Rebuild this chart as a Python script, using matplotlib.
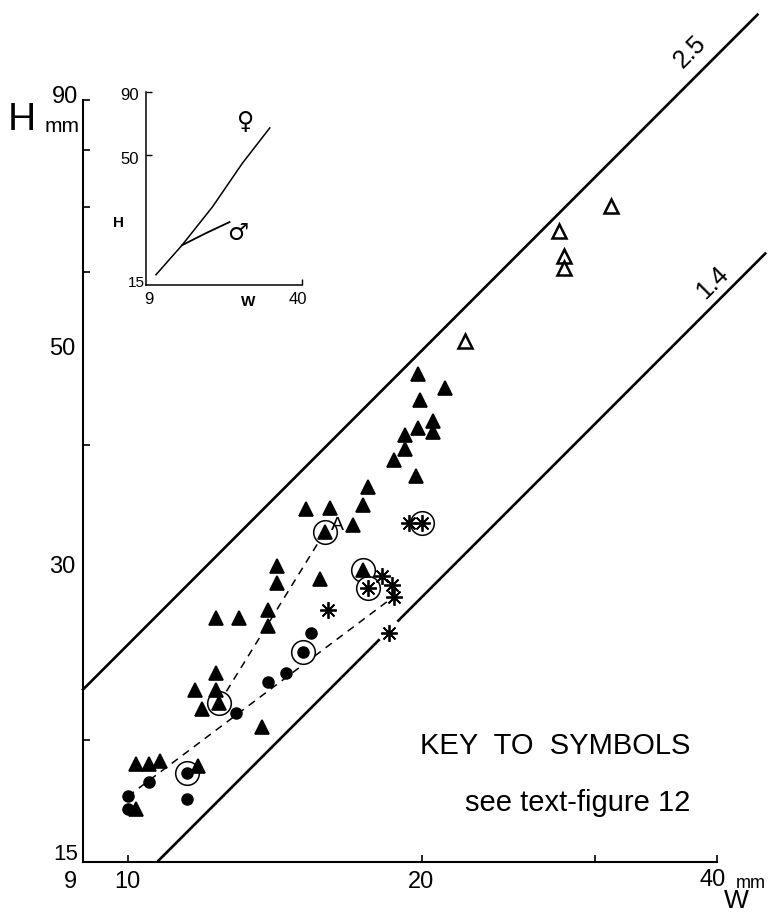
import numpy as np
import matplotlib.pyplot as plt
from matplotlib.ticker import FixedLocator, NullLocator, NullFormatter

# ---- data (W = width mm, H = height mm) ----
# filled triangles
tri_w = [19.8, 21.1, 19.9, 20.5, 19.8, 20.5, 19.2, 19.2, 18.7, 19.7, 17.6, 17.4,
         16.1, 15.2, 17.0, 14.2, 14.2, 15.7, 12.3, 13.0, 13.9, 13.9, 12.3, 11.7,
         12.3, 11.9, 13.7, 10.2, 10.5, 10.8, 11.8, 10.2]
tri_h = [47.3, 45.7, 44.4, 42.3, 41.6, 41.2, 40.9, 39.6, 38.6, 37.2, 36.2, 34.7,
         34.5, 34.4, 33.1, 30.1, 28.9, 29.2, 26.6, 26.6, 27.1, 26.1, 23.4, 22.5,
         22.5, 21.5, 20.6, 18.9, 18.9, 19.0, 18.8, 17.0]
# circled filled triangles (first one is "A")
ctri_w = [15.9, 17.4, 12.4]
ctri_h = [32.6, 29.8, 21.8]
# filled dots
dot_w = [15.4, 14.5, 13.9, 12.9, 10.5, 10.0, 10.0, 11.5]
dot_h = [25.7, 23.4, 22.9, 21.3, 18.1, 17.5, 17.0, 17.4]
# circled dots
cdot_w = [15.1, 11.5]
cdot_h = [24.6, 18.5]
# asterisks
ast_w = [16.0, 18.2, 18.6, 18.7, 18.5, 19.4]
ast_h = [27.1, 29.4, 28.8, 28.0, 25.7, 33.3]
# circled asterisks
cast_w = [20.0, 17.6]
cast_h = [33.3, 28.6]
# open triangles
otri_w = [31.2, 27.6, 27.9, 27.9, 22.1]
otri_h = [70.2, 66.1, 62.3, 60.7, 51.1]

# dashed growth lines
dash1_w = [10.0, 18.7]
dash1_h = [17.5, 28.0]
dash2_w = [12.4, 15.9]
dash2_h = [21.8, 32.6]

# H/W ratio lines
ratio_hi = 2.5
ratio_hi_w = [9.0, 44.0]
ratio_lo = 1.4
ratio_lo_w = [[10.75, 18.05], [18.9, 44.8]]

# inset curves
fem_w = [9.9, 12.7, 17.0, 22.6, 29.4]
fem_h = [16.5, 21.7, 31.0, 46.4, 64.5]
male_w = [12.7, 16.0, 20.0]
male_h = [21.7, 24.3, 26.9]

W_PX, H_PX = 781, 915


def fx(x):
    return x / W_PX


def fy(y):
    return 1 - y / H_PX


plt.rcParams['font.family'] = ['Liberation Sans', 'DejaVu Sans']

fig = plt.figure(figsize=(W_PX / 100, H_PX / 100), dpi=100)
ax = fig.add_axes([fx(83), fy(862), fx(717) - fx(83), fy(100) - fy(862)])
ax.set_xscale('log')
ax.set_yscale('log')
ax.set_xlim(9, 40)
ax.set_ylim(15, 90)

for s in ['top', 'right']:
    ax.spines[s].set_visible(False)
for s in ['left', 'bottom']:
    ax.spines[s].set_linewidth(1.5)

ax.xaxis.set_major_locator(FixedLocator([10, 20, 30, 40]))
ax.xaxis.set_minor_locator(NullLocator())
ax.xaxis.set_major_formatter(NullFormatter())
ax.yaxis.set_major_locator(FixedLocator([20, 40, 60, 70, 80, 90]))
ax.yaxis.set_minor_locator(NullLocator())
ax.yaxis.set_major_formatter(NullFormatter())
ax.tick_params(direction='in', length=5, width=1.2)

# ratio lines
rw = np.array(ratio_hi_w)
ax.plot(rw, ratio_hi * rw, color='k', lw=1.9, clip_on=False, zorder=1)
for seg in ratio_lo_w:
    rw = np.array(seg)
    ax.plot(rw, ratio_lo * rw, color='k', lw=1.9, clip_on=False, zorder=1)

# dashed lines
ax.plot(dash1_w, dash1_h, color='k', lw=1.1, ls=(0, (5, 4)), zorder=1)
ax.plot(dash2_w, dash2_h, color='k', lw=1.1, ls=(0, (5, 4)), zorder=1)

# rings for circled points
ring_w = ctri_w + cdot_w + cast_w
ring_h = ctri_h + cdot_h + cast_h
ax.plot(ring_w, ring_h, ls='none', marker='o', ms=17, mfc='white', mec='k',
        mew=1.1, zorder=2)

ax.plot(tri_w + ctri_w, tri_h + ctri_h, ls='none', marker='^', ms=10,
        mfc='k', mec='k', mew=1.2, zorder=3)
ax.plot(dot_w + cdot_w, dot_h + cdot_h, ls='none', marker='o', ms=8,
        mfc='k', mec='k', zorder=3)
ax.plot(ast_w + cast_w, ast_h + cast_h, ls='none', marker=(8, 2, 0), ms=12,
        mec='k', mew=1.3, zorder=3)
ax.plot(otri_w, otri_h, ls='none', marker='^', ms=10, mfc='white', mec='k',
        mew=1.8, zorder=3)

ax.text(ctri_w[0] * 1.03, ctri_h[0] * 1.015, 'A', fontsize=14, ha='center',
        va='center', zorder=5)

# ratio labels
fig.text(fx(690), fy(52), '2.5', fontsize=18, rotation=45, ha='center', va='center')
fig.text(fx(712), fy(283), '1.4', fontsize=18, rotation=45, ha='center', va='center')

# axis labels
fig.text(fx(22), fy(120), 'H', fontsize=28, ha='center', va='center')
fig.text(fx(62), fy(126), 'mm', fontsize=15, ha='center', va='center')
fig.text(fx(65), fy(97), '90', fontsize=17, ha='center', va='center')
fig.text(fx(62), fy(349), '50', fontsize=17, ha='center', va='center')
fig.text(fx(62), fy(567), '30', fontsize=17, ha='center', va='center')
fig.text(fx(66), fy(855), '15', fontsize=16, ha='center', va='center')
fig.text(fx(70), fy(882), '9', fontsize=17, ha='center', va='center')
fig.text(fx(127), fy(882), '10', fontsize=17, ha='center', va='center')
fig.text(fx(421), fy(882), '20', fontsize=17, ha='center', va='center')
fig.text(fx(699), fy(880), '40', fontsize=17, ha='left', va='center')
fig.text(fx(736), fy(883), 'mm', fontsize=13, ha='left', va='center')
fig.text(fx(736), fy(901), 'W', fontsize=19, ha='center', va='center')

# key text
fig.text(fx(690), fy(746), 'KEY  TO  SYMBOLS', fontsize=21, ha='right', va='center')
fig.text(fx(690), fy(803), 'see text-figure 12', fontsize=21, ha='right', va='center')

# ---- inset ----
ins = fig.add_axes([fx(146), fy(285), fx(302) - fx(146), fy(92) - fy(285)])
ins.set_xscale('log')
ins.set_yscale('log')
ins.set_xlim(9, 40)
ins.set_ylim(15, 90)
for s in ['top', 'right']:
    ins.spines[s].set_visible(False)
for s in ['left', 'bottom']:
    ins.spines[s].set_linewidth(1.1)
ins.xaxis.set_major_locator(FixedLocator([40]))
ins.xaxis.set_minor_locator(NullLocator())
ins.xaxis.set_major_formatter(NullFormatter())
ins.yaxis.set_major_locator(FixedLocator([50, 90]))
ins.yaxis.set_minor_locator(NullLocator())
ins.yaxis.set_major_formatter(NullFormatter())
ins.tick_params(direction='in', length=4, width=1)
ins.patch.set_alpha(0)

ins.plot(fem_w, fem_h, color='k', lw=1.1)
ins.plot(male_w, male_h, color='k', lw=1.3)

fig.text(fx(130), fy(96), '90', fontsize=12, ha='center', va='center')
fig.text(fx(130), fy(159), '50', fontsize=12, ha='center', va='center')
fig.text(fx(136), fy(283), '15', fontsize=11, ha='center', va='center')
fig.text(fx(149), fy(299), '9', fontsize=12, ha='center', va='center')
fig.text(fx(298), fy(299), '40', fontsize=12, ha='center', va='center')
fig.text(fx(118), fy(223), 'H', fontsize=11, fontweight='bold', ha='center', va='center')
fig.text(fx(248), fy(302), 'W', fontsize=11, fontweight='bold', ha='center', va='center')
fig.text(fx(246), fy(122), '♀', fontsize=17, ha='center', va='center',
         family=['DejaVu Sans'])
fig.text(fx(238), fy(233), '♂', fontsize=17, ha='center', va='center',
         family=['DejaVu Sans'])

fig.savefig('out.png', dpi=100)
